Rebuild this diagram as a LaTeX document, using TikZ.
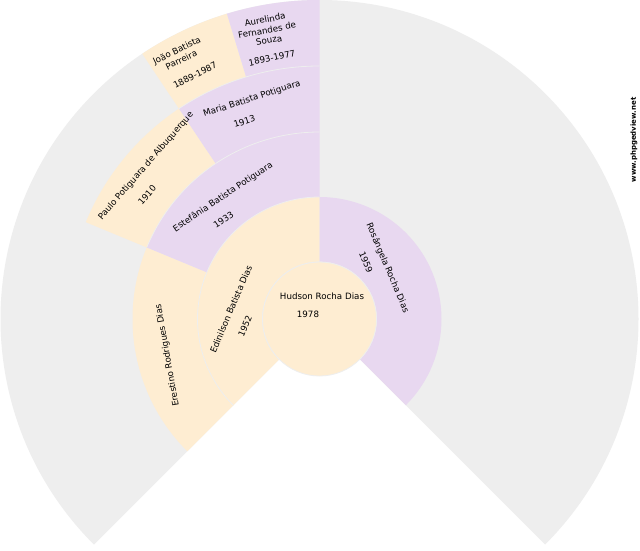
\documentclass[tikz,border=0pt]{standalone}
\usepackage{fontspec}
\setmainfont{DejaVu Sans}

\definecolor{fanback}{HTML}{EEEEEE}
\definecolor{malefill}{HTML}{FEEDD2}
\definecolor{femalefill}{HTML}{E8D8F0}

% ring piece: inner radius, outer radius, first angle, last angle, colour
\newcommand{\Sector}[5]{
  \fill[#5] (#3:#1) arc[start angle=#3,end angle=#4,radius=#1] -- (#4:#2)
    arc[start angle=#4,end angle=#3,radius=#2] -- cycle;
  \draw[fanline] (#3:#1) arc[start angle=#3,end angle=#4,radius=#1];
}

\begin{document}
\begin{tikzpicture}[x=1pt,y=1pt]
  \tikzstyle{fanline}=[fanback,line width=0.8pt]
  \tikzstyle{NameStyle}=[inner sep=0pt,align=center,font=\fontsize{8.7}{10.5}\selectfont]
  \tikzstyle{SiteStyle}=[inner sep=0pt,rotate=90,font=\bfseries\fontsize{7}{8}\selectfont]
  \useasboundingbox (0,0) rectangle (640,550);
  \fill[white] (0,0) rectangle (640,550);
  \begin{scope}[shift={(319.5,231)}]
    \fill[fanback] (0,0) -- (225:319) arc[start angle=225,end angle=-45,radius=319] -- cycle;
    \Sector{57}{122}{225}{90}{malefill}
    \Sector{57}{122}{90}{-45}{femalefill}
    \Sector{122}{187}{225}{157.5}{malefill}
    \Sector{122}{187}{157.5}{90}{femalefill}
    \Sector{187}{253}{157.5}{123.75}{malefill}
    \Sector{187}{253}{123.75}{90}{femalefill}
    \Sector{253}{319}{123.75}{106.875}{malefill}
    \Sector{253}{319}{106.875}{90}{femalefill}
    \fill[malefill] (0,0) circle (57);
    \draw[fanline] (0,0) circle (57);
  \end{scope}
  % root
  \node[NameStyle] (hudson) at (322,254) {Hudson Rocha Dias};
  \node[NameStyle] (hudsonyear) at (308,236) {1978};
  % parents
  \node[NameStyle,rotate=67] (edinilson) at (231,241) {Edinilson Batista Dias};
  \node[NameStyle,rotate=67] (edinilsonyear) at (245,224) {1952};
  \node[NameStyle,rotate=-67] (rosangela) at (387.5,282) {Rosângela Rocha Dias};
  \node[NameStyle,rotate=-67] (rosangelayear) at (366,288) {1959};
  % grandparents
  \node[NameStyle,rotate=100] (erestino) at (167.5,194.5) {Erestino Rodrigues Dias};
  \node[NameStyle,rotate=34] (estefania) at (223,353) {Estefânia Batista Potiguara};
  \node[NameStyle,rotate=34] (estefaniayear) at (223.5,330.5) {1933};
  % great grandparents
  \node[NameStyle,rotate=49] (paulo) at (146,384) {Paulo Potiguara de Albuquerque};
  \node[NameStyle,rotate=49] (pauloyear) at (147,355) {1910};
  \node[NameStyle,rotate=18] (maria) at (252,451) {Maria Batista Potiguara};
  \node[NameStyle,rotate=18] (mariayear) at (244.5,428.5) {1913};
  % last ring
  \node[NameStyle,rotate=26] (joao) at (179,495) {João Batista\\Parreira};
  \node[NameStyle,rotate=27] (joaoyear) at (195,475) {1889-1987};
  \node[NameStyle,rotate=11] (aurelinda) at (267,520) {Aurelinda\\Fernandes de\\Souza};
  \node[NameStyle,rotate=12] (aurelindayear) at (272,492) {1893-1977};
  % site
  \node[SiteStyle] (site) at (634,410) {www.phpgedview.net};
\end{tikzpicture}
\end{document}
